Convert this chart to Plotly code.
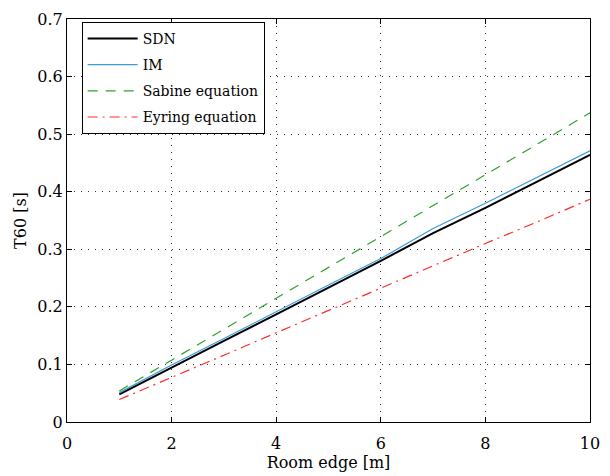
import plotly.graph_objects as go

# Room edge length [m]
edge = [1, 2, 3, 4, 5, 6, 7, 8, 9, 10]

# Reverberation time T60 [s] per method
t60_sdn = [0.048, 0.095, 0.141, 0.187, 0.233, 0.280, 0.328, 0.372, 0.418, 0.464]
t60_im = [0.051, 0.099, 0.145, 0.192, 0.238, 0.284, 0.336, 0.380, 0.425, 0.471]
t60_sabine = [0.054, 0.107, 0.161, 0.215, 0.268, 0.322, 0.376, 0.429, 0.483, 0.537]
t60_eyring = [0.039, 0.077, 0.116, 0.155, 0.194, 0.232, 0.271, 0.310, 0.348, 0.387]

x_ticks = [0, 2, 4, 6, 8, 10]
y_ticks = [0, 0.1, 0.2, 0.3, 0.4, 0.5, 0.6, 0.7]
y_tick_text = ["0", "0.1", "0.2", "0.3", "0.4", "0.5", "0.6", "0.7"]

FONT = "DejaVu Serif"

series = [
    ("SDN", t60_sdn, dict(color="black", width=2, dash="solid")),
    ("IM", t60_im, dict(color="#3a9ad9", width=1.2, dash="solid")),
    ("Sabine equation", t60_sabine, dict(color="#2ca02c", width=1.2, dash="10px,8px")),
    ("Eyring equation", t60_eyring, dict(color="#ff2a2a", width=1.2, dash="10px,5px,2px,5px")),
]

fig = go.Figure()
for i, (name, vals, line) in enumerate(series):
    fig.add_trace(go.Scatter(x=edge, y=vals, mode="lines", name=name, line=line,
                             legendgroup=f"s{i}"))

axis_common = dict(
    showline=True, linecolor="black", linewidth=1, mirror="ticks",
    ticks="inside", ticklen=5, tickcolor="black", tickwidth=1,
    showgrid=True, gridcolor="#333", gridwidth=1, griddash="1px,6px",
    zeroline=False, tickfont=dict(family=FONT, size=16, color="black"),
)

fig.update_xaxes(
    range=[0, 10], tickvals=x_ticks, ticktext=[str(v) for v in x_ticks],
    ticklabelstandoff=7,
    title=dict(text="Room edge [m]", font=dict(family=FONT, size=16, color="black"), standoff=0),
    **axis_common,
)
fig.update_yaxes(
    range=[0, 0.7], tickvals=y_ticks, ticktext=y_tick_text,
    title=dict(text="T60 [s]", font=dict(family=FONT, size=16, color="black"), standoff=6),
    **axis_common,
)

fig.update_layout(
    width=610, height=476,
    margin=dict(l=67, r=12, t=10, b=54),
    paper_bgcolor="white", plot_bgcolor="white",
    font=dict(family=FONT, color="black"),
    showlegend=True,
    legend=dict(
        x=0.028, y=0.993, xanchor="left", yanchor="top",
        bgcolor="white", bordercolor="black", borderwidth=1,
        font=dict(family=FONT, size=14, color="black"),
        itemwidth=50, tracegroupgap=5,
    ),
)

fig.write_html("out.html")
